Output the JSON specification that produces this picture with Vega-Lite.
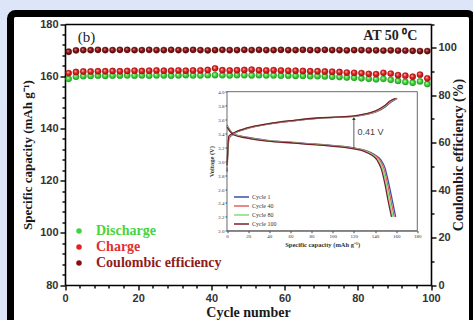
{
  "$schema": "https://vega.github.io/schema/vega-lite/v6.json",
  "width": 462,
  "height": 330,
  "autosize": {"type": "none"},
  "padding": {"left": 10.5, "top": 13.5, "right": 0.5, "bottom": 0},
  "background": "#dde6f8",
  "config": {
    "view": {"fill": "white", "stroke": "black", "strokeWidth": 7, "cornerRadius": 5},
    "axis": {"grid": false, "labelOverlap": false, "labelFlush": false}
  },
  "datasets": {
    "main": [
      {"cycle": 1, "discharge": 159.0, "charge": 161.2, "ce": 98.3},
      {"cycle": 3, "discharge": 159.8, "charge": 161.6, "ce": 98.9},
      {"cycle": 5, "discharge": 160.0, "charge": 161.8, "ce": 99.0},
      {"cycle": 7, "discharge": 160.1, "charge": 161.8, "ce": 99.0},
      {"cycle": 9, "discharge": 160.2, "charge": 161.9, "ce": 99.1},
      {"cycle": 11, "discharge": 160.1, "charge": 161.9, "ce": 99.0},
      {"cycle": 13, "discharge": 160.2, "charge": 162.0, "ce": 99.0},
      {"cycle": 15, "discharge": 160.2, "charge": 161.9, "ce": 99.1},
      {"cycle": 17, "discharge": 160.3, "charge": 162.0, "ce": 99.1},
      {"cycle": 19, "discharge": 160.2, "charge": 162.1, "ce": 99.0},
      {"cycle": 21, "discharge": 160.3, "charge": 162.0, "ce": 99.0},
      {"cycle": 23, "discharge": 160.2, "charge": 162.1, "ce": 99.1},
      {"cycle": 25, "discharge": 160.3, "charge": 162.2, "ce": 99.0},
      {"cycle": 27, "discharge": 160.3, "charge": 162.1, "ce": 99.0},
      {"cycle": 29, "discharge": 160.2, "charge": 162.1, "ce": 99.1},
      {"cycle": 31, "discharge": 160.3, "charge": 162.2, "ce": 99.0},
      {"cycle": 33, "discharge": 160.4, "charge": 162.1, "ce": 99.0},
      {"cycle": 35, "discharge": 160.3, "charge": 162.2, "ce": 99.1},
      {"cycle": 37, "discharge": 160.3, "charge": 162.2, "ce": 99.0},
      {"cycle": 39, "discharge": 160.4, "charge": 162.4, "ce": 98.9},
      {"cycle": 41, "discharge": 160.4, "charge": 163.0, "ce": 99.0},
      {"cycle": 43, "discharge": 160.4, "charge": 162.3, "ce": 99.1},
      {"cycle": 45, "discharge": 160.3, "charge": 162.2, "ce": 99.0},
      {"cycle": 47, "discharge": 160.4, "charge": 162.3, "ce": 99.0},
      {"cycle": 49, "discharge": 160.4, "charge": 162.4, "ce": 99.1},
      {"cycle": 51, "discharge": 160.3, "charge": 162.5, "ce": 99.0},
      {"cycle": 53, "discharge": 160.4, "charge": 162.3, "ce": 99.1},
      {"cycle": 55, "discharge": 160.3, "charge": 162.2, "ce": 99.0},
      {"cycle": 57, "discharge": 160.3, "charge": 162.3, "ce": 99.0},
      {"cycle": 59, "discharge": 160.2, "charge": 162.2, "ce": 99.1},
      {"cycle": 61, "discharge": 160.2, "charge": 162.1, "ce": 99.0},
      {"cycle": 63, "discharge": 160.1, "charge": 162.1, "ce": 99.0},
      {"cycle": 65, "discharge": 160.1, "charge": 162.0, "ce": 99.1},
      {"cycle": 67, "discharge": 160.0, "charge": 161.9, "ce": 99.0},
      {"cycle": 69, "discharge": 160.0, "charge": 161.9, "ce": 99.0},
      {"cycle": 71, "discharge": 159.9, "charge": 161.8, "ce": 99.1},
      {"cycle": 73, "discharge": 159.8, "charge": 161.7, "ce": 99.0},
      {"cycle": 75, "discharge": 159.7, "charge": 161.6, "ce": 99.0},
      {"cycle": 77, "discharge": 159.5, "charge": 161.4, "ce": 98.9},
      {"cycle": 79, "discharge": 159.4, "charge": 161.3, "ce": 99.0},
      {"cycle": 81, "discharge": 159.2, "charge": 161.2, "ce": 99.0},
      {"cycle": 83, "discharge": 159.0, "charge": 160.9, "ce": 98.9},
      {"cycle": 85, "discharge": 158.8, "charge": 160.8, "ce": 98.9},
      {"cycle": 87, "discharge": 159.0, "charge": 161.3, "ce": 98.8},
      {"cycle": 89, "discharge": 158.6, "charge": 161.0, "ce": 98.9},
      {"cycle": 91, "discharge": 158.2, "charge": 160.4, "ce": 98.8},
      {"cycle": 93, "discharge": 157.8, "charge": 160.2, "ce": 98.8},
      {"cycle": 95, "discharge": 157.5, "charge": 159.8, "ce": 98.7},
      {"cycle": 97, "discharge": 158.0, "charge": 160.6, "ce": 98.6},
      {"cycle": 99, "discharge": 157.0, "charge": 159.2, "ce": 98.6}
    ],
    "inset": [
      {"cycle": "Cycle 1", "branch": "charge", "cap": 0, "v": 2.85},
      {"cycle": "Cycle 1", "branch": "charge", "cap": 0.6, "v": 3.06},
      {"cycle": "Cycle 1", "branch": "charge", "cap": 1.9, "v": 3.33},
      {"cycle": "Cycle 1", "branch": "charge", "cap": 6, "v": 3.39},
      {"cycle": "Cycle 1", "branch": "charge", "cap": 19, "v": 3.47},
      {"cycle": "Cycle 1", "branch": "charge", "cap": 38, "v": 3.53},
      {"cycle": "Cycle 1", "branch": "charge", "cap": 63, "v": 3.58},
      {"cycle": "Cycle 1", "branch": "charge", "cap": 88, "v": 3.62},
      {"cycle": "Cycle 1", "branch": "charge", "cap": 120, "v": 3.645},
      {"cycle": "Cycle 1", "branch": "charge", "cap": 132, "v": 3.675},
      {"cycle": "Cycle 1", "branch": "charge", "cap": 142, "v": 3.715},
      {"cycle": "Cycle 1", "branch": "charge", "cap": 150, "v": 3.785},
      {"cycle": "Cycle 1", "branch": "charge", "cap": 156, "v": 3.86},
      {"cycle": "Cycle 1", "branch": "charge", "cap": 161, "v": 3.905},
      {"cycle": "Cycle 1", "branch": "discharge", "cap": 0, "v": 3.52},
      {"cycle": "Cycle 1", "branch": "discharge", "cap": 2.5, "v": 3.45},
      {"cycle": "Cycle 1", "branch": "discharge", "cap": 6, "v": 3.395},
      {"cycle": "Cycle 1", "branch": "discharge", "cap": 19, "v": 3.345},
      {"cycle": "Cycle 1", "branch": "discharge", "cap": 38, "v": 3.3},
      {"cycle": "Cycle 1", "branch": "discharge", "cap": 63, "v": 3.27},
      {"cycle": "Cycle 1", "branch": "discharge", "cap": 88, "v": 3.24},
      {"cycle": "Cycle 1", "branch": "discharge", "cap": 120, "v": 3.19},
      {"cycle": "Cycle 1", "branch": "discharge", "cap": 132, "v": 3.15},
      {"cycle": "Cycle 1", "branch": "discharge", "cap": 139, "v": 3.1},
      {"cycle": "Cycle 1", "branch": "discharge", "cap": 145.5, "v": 3.02},
      {"cycle": "Cycle 1", "branch": "discharge", "cap": 149.5, "v": 2.9},
      {"cycle": "Cycle 1", "branch": "discharge", "cap": 153, "v": 2.68},
      {"cycle": "Cycle 1", "branch": "discharge", "cap": 156.3, "v": 2.44},
      {"cycle": "Cycle 1", "branch": "discharge", "cap": 159.5, "v": 2.2},
      {"cycle": "Cycle 40", "branch": "charge", "cap": 0, "v": 2.88},
      {"cycle": "Cycle 40", "branch": "charge", "cap": 0.6, "v": 3.08},
      {"cycle": "Cycle 40", "branch": "charge", "cap": 1.8, "v": 3.34},
      {"cycle": "Cycle 40", "branch": "charge", "cap": 6, "v": 3.395},
      {"cycle": "Cycle 40", "branch": "charge", "cap": 19, "v": 3.472},
      {"cycle": "Cycle 40", "branch": "charge", "cap": 38, "v": 3.532},
      {"cycle": "Cycle 40", "branch": "charge", "cap": 63, "v": 3.582},
      {"cycle": "Cycle 40", "branch": "charge", "cap": 88, "v": 3.621},
      {"cycle": "Cycle 40", "branch": "charge", "cap": 119.5, "v": 3.646},
      {"cycle": "Cycle 40", "branch": "charge", "cap": 131.5, "v": 3.676},
      {"cycle": "Cycle 40", "branch": "charge", "cap": 141.5, "v": 3.717},
      {"cycle": "Cycle 40", "branch": "charge", "cap": 149.5, "v": 3.788},
      {"cycle": "Cycle 40", "branch": "charge", "cap": 155.5, "v": 3.863},
      {"cycle": "Cycle 40", "branch": "charge", "cap": 160.5, "v": 3.905},
      {"cycle": "Cycle 40", "branch": "discharge", "cap": 0, "v": 3.51},
      {"cycle": "Cycle 40", "branch": "discharge", "cap": 2.5, "v": 3.445},
      {"cycle": "Cycle 40", "branch": "discharge", "cap": 6, "v": 3.39},
      {"cycle": "Cycle 40", "branch": "discharge", "cap": 19, "v": 3.34},
      {"cycle": "Cycle 40", "branch": "discharge", "cap": 38, "v": 3.297},
      {"cycle": "Cycle 40", "branch": "discharge", "cap": 63, "v": 3.267},
      {"cycle": "Cycle 40", "branch": "discharge", "cap": 88, "v": 3.237},
      {"cycle": "Cycle 40", "branch": "discharge", "cap": 119.5, "v": 3.187},
      {"cycle": "Cycle 40", "branch": "discharge", "cap": 131.3, "v": 3.147},
      {"cycle": "Cycle 40", "branch": "discharge", "cap": 138.2, "v": 3.097},
      {"cycle": "Cycle 40", "branch": "discharge", "cap": 144.4, "v": 3.017},
      {"cycle": "Cycle 40", "branch": "discharge", "cap": 148.3, "v": 2.897},
      {"cycle": "Cycle 40", "branch": "discharge", "cap": 151.8, "v": 2.677},
      {"cycle": "Cycle 40", "branch": "discharge", "cap": 155, "v": 2.437},
      {"cycle": "Cycle 40", "branch": "discharge", "cap": 158.2, "v": 2.2},
      {"cycle": "Cycle 80", "branch": "charge", "cap": 0, "v": 2.91},
      {"cycle": "Cycle 80", "branch": "charge", "cap": 0.6, "v": 3.1},
      {"cycle": "Cycle 80", "branch": "charge", "cap": 1.8, "v": 3.35},
      {"cycle": "Cycle 80", "branch": "charge", "cap": 6, "v": 3.4},
      {"cycle": "Cycle 80", "branch": "charge", "cap": 19, "v": 3.475},
      {"cycle": "Cycle 80", "branch": "charge", "cap": 38, "v": 3.535},
      {"cycle": "Cycle 80", "branch": "charge", "cap": 63, "v": 3.585},
      {"cycle": "Cycle 80", "branch": "charge", "cap": 88, "v": 3.623},
      {"cycle": "Cycle 80", "branch": "charge", "cap": 119, "v": 3.648},
      {"cycle": "Cycle 80", "branch": "charge", "cap": 131, "v": 3.678},
      {"cycle": "Cycle 80", "branch": "charge", "cap": 141, "v": 3.72},
      {"cycle": "Cycle 80", "branch": "charge", "cap": 149, "v": 3.79},
      {"cycle": "Cycle 80", "branch": "charge", "cap": 155, "v": 3.866},
      {"cycle": "Cycle 80", "branch": "charge", "cap": 160, "v": 3.905},
      {"cycle": "Cycle 80", "branch": "discharge", "cap": 0, "v": 3.5},
      {"cycle": "Cycle 80", "branch": "discharge", "cap": 2.5, "v": 3.44},
      {"cycle": "Cycle 80", "branch": "discharge", "cap": 6, "v": 3.385},
      {"cycle": "Cycle 80", "branch": "discharge", "cap": 19, "v": 3.336},
      {"cycle": "Cycle 80", "branch": "discharge", "cap": 38, "v": 3.294},
      {"cycle": "Cycle 80", "branch": "discharge", "cap": 63, "v": 3.264},
      {"cycle": "Cycle 80", "branch": "discharge", "cap": 88, "v": 3.234},
      {"cycle": "Cycle 80", "branch": "discharge", "cap": 119, "v": 3.184},
      {"cycle": "Cycle 80", "branch": "discharge", "cap": 130.6, "v": 3.144},
      {"cycle": "Cycle 80", "branch": "discharge", "cap": 137.4, "v": 3.094},
      {"cycle": "Cycle 80", "branch": "discharge", "cap": 143.3, "v": 3.014},
      {"cycle": "Cycle 80", "branch": "discharge", "cap": 147.1, "v": 2.894},
      {"cycle": "Cycle 80", "branch": "discharge", "cap": 150.6, "v": 2.674},
      {"cycle": "Cycle 80", "branch": "discharge", "cap": 153.7, "v": 2.434},
      {"cycle": "Cycle 80", "branch": "discharge", "cap": 156.9, "v": 2.2},
      {"cycle": "Cycle 100", "branch": "charge", "cap": 0, "v": 2.94},
      {"cycle": "Cycle 100", "branch": "charge", "cap": 0.6, "v": 3.12},
      {"cycle": "Cycle 100", "branch": "charge", "cap": 1.7, "v": 3.36},
      {"cycle": "Cycle 100", "branch": "charge", "cap": 6, "v": 3.405},
      {"cycle": "Cycle 100", "branch": "charge", "cap": 19, "v": 3.478},
      {"cycle": "Cycle 100", "branch": "charge", "cap": 38, "v": 3.538},
      {"cycle": "Cycle 100", "branch": "charge", "cap": 63, "v": 3.588},
      {"cycle": "Cycle 100", "branch": "charge", "cap": 88, "v": 3.625},
      {"cycle": "Cycle 100", "branch": "charge", "cap": 118.5, "v": 3.65},
      {"cycle": "Cycle 100", "branch": "charge", "cap": 130.5, "v": 3.68},
      {"cycle": "Cycle 100", "branch": "charge", "cap": 140.5, "v": 3.723},
      {"cycle": "Cycle 100", "branch": "charge", "cap": 148.5, "v": 3.793},
      {"cycle": "Cycle 100", "branch": "charge", "cap": 154.5, "v": 3.869},
      {"cycle": "Cycle 100", "branch": "charge", "cap": 159.5, "v": 3.905},
      {"cycle": "Cycle 100", "branch": "discharge", "cap": 0, "v": 3.49},
      {"cycle": "Cycle 100", "branch": "discharge", "cap": 2.5, "v": 3.435},
      {"cycle": "Cycle 100", "branch": "discharge", "cap": 6, "v": 3.38},
      {"cycle": "Cycle 100", "branch": "discharge", "cap": 19, "v": 3.332},
      {"cycle": "Cycle 100", "branch": "discharge", "cap": 38, "v": 3.29},
      {"cycle": "Cycle 100", "branch": "discharge", "cap": 63, "v": 3.26},
      {"cycle": "Cycle 100", "branch": "discharge", "cap": 88, "v": 3.23},
      {"cycle": "Cycle 100", "branch": "discharge", "cap": 118.5, "v": 3.18},
      {"cycle": "Cycle 100", "branch": "discharge", "cap": 129.9, "v": 3.14},
      {"cycle": "Cycle 100", "branch": "discharge", "cap": 136.6, "v": 3.09},
      {"cycle": "Cycle 100", "branch": "discharge", "cap": 142.2, "v": 3.01},
      {"cycle": "Cycle 100", "branch": "discharge", "cap": 145.9, "v": 2.89},
      {"cycle": "Cycle 100", "branch": "discharge", "cap": 149.4, "v": 2.67},
      {"cycle": "Cycle 100", "branch": "discharge", "cap": 152.4, "v": 2.43},
      {"cycle": "Cycle 100", "branch": "discharge", "cap": 155.6, "v": 2.2}
    ]
  },
  "layer": [
    {
      "data": {"values": []},
      "mark": {"type": "circle", "size": 40, "opacity": 1},
      "encoding": {
        "x": {"field": "cycle", "type": "quantitative", "scale": {"domain": [0, 100], "range": [54.5, 420.5], "nice": false, "zero": false}, "axis": null},
        "y": {"field": "value", "type": "quantitative", "scale": {"domain": [80, 180], "range": [271.5, 10.5], "nice": false, "zero": false}, "axis": null},
        "color": {"field": "series", "type": "nominal",
          "scale": {"domain": ["Discharge", "Charge", "Coulombic efficiency"], "range": ["#3fd43c", "#e42020", "#8a0d0d"]},
          "legend": {"orient": "none", "legendX": 61.5, "legendY": 209.7, "title": null, "padding": 0,
            "symbolType": "circle", "symbolSize": 30, "symbolStrokeWidth": 0, "symbolOpacity": 1, "clipHeight": 15.5, "rowPadding": 0, "labelOffset": 10,
            "labelFont": "Liberation Serif", "labelFontSize": 14, "labelFontWeight": "bold",
            "labelColor": {"expr": "datum.label == 'Discharge' ? '#46d43f' : datum.label == 'Charge' ? '#e03030' : '#8e1c1c'"}}}
      }
    },
    {
      "data": {"name": "main"},
      "mark": {"type": "circle", "size": 40, "opacity": 1, "stroke": "#1f9a1f", "strokeWidth": 0.3,
        "fill": {"gradient": "radial", "x1": 0.38, "y1": 0.35, "r1": 0, "x2": 0.5, "y2": 0.5, "r2": 0.55, "stops": [{"offset": 0, "color": "#d6ffd0"}, {"offset": 0.45, "color": "#45d83e"}, {"offset": 1, "color": "#1e901e"}]}},
      "encoding": {
        "x": {"field": "cycle", "type": "quantitative",
          "scale": {"domain": [0, 100], "range": [54.5, 420.5], "nice": false, "zero": false},
          "axis": {"orient": "bottom", "offset": -58.5,
            "values": [0,4,8,12,16,20,24,28,32,36,40,44,48,52,56,60,64,68,72,76,80,84,88,92,96,100],
            "labelExpr": "datum.value % 20 == 0 ? datum.label : ''",
            "tickSize": {"condition": {"test": "datum.value % 20 == 0", "value": 5}, "value": 3},
            "title": "Cycle number", "titleFont": "Liberation Serif", "titleFontSize": 14, "titleFontWeight": "bold", "titleColor": "#1a1a1a", "titlePadding": 2,
            "labelFont": "Liberation Sans", "labelFontSize": 11, "labelFontWeight": "bold", "labelColor": "#333", "labelPadding": 2,
            "domainColor": "black", "domainWidth": 1.6, "tickColor": "black", "tickWidth": 1.4}},
        "y": {"field": "discharge", "type": "quantitative",
          "scale": {"domain": [80, 180], "range": [271.5, 10.5], "nice": false, "zero": false},
          "axis": {"orient": "left", "offset": -54.5,
            "values": [80,84,88,92,96,100,104,108,112,116,120,124,128,132,136,140,144,148,152,156,160,164,168,172,176,180],
            "labelExpr": "datum.value % 20 == 0 ? datum.label : ''",
            "tickSize": {"condition": {"test": "datum.value % 20 == 0", "value": 5}, "value": 3},
            "title": "Specific capacity (mAh g⁻¹)", "titleFont": "Liberation Serif", "titleFontSize": 13, "titleFontWeight": "bold", "titleColor": "#1a1a1a", "titlePadding": 5,
            "labelFont": "Liberation Sans", "labelFontSize": 11, "labelFontWeight": "bold", "labelColor": "#333", "labelPadding": 2,
            "domainColor": "black", "domainWidth": 1.6, "tickColor": "black", "tickWidth": 1.4}}
      }
    },
    {
      "data": {"name": "main"},
      "mark": {"type": "circle", "size": 40, "opacity": 1, "stroke": "#a01010", "strokeWidth": 0.3,
        "fill": {"gradient": "radial", "x1": 0.38, "y1": 0.35, "r1": 0, "x2": 0.5, "y2": 0.5, "r2": 0.55, "stops": [{"offset": 0, "color": "#ffd0d0"}, {"offset": 0.45, "color": "#e62424"}, {"offset": 1, "color": "#9a0c0c"}]}},
      "encoding": {
        "x": {"field": "cycle", "type": "quantitative", "scale": {"domain": [0, 100], "range": [54.5, 420.5], "nice": false, "zero": false}, "axis": null},
        "y": {"field": "charge", "type": "quantitative", "scale": {"domain": [80, 180], "range": [271.5, 10.5], "nice": false, "zero": false}, "axis": null}
      }
    },
    {
      "data": {"name": "main"},
      "mark": {"type": "circle", "size": 40, "opacity": 1, "stroke": "#4a0505", "strokeWidth": 0.3,
        "fill": {"gradient": "radial", "x1": 0.38, "y1": 0.35, "r1": 0, "x2": 0.5, "y2": 0.5, "r2": 0.55, "stops": [{"offset": 0, "color": "#e59a9a"}, {"offset": 0.45, "color": "#901515"}, {"offset": 1, "color": "#4a0404"}]}},
      "encoding": {
        "x": {"field": "cycle", "type": "quantitative", "scale": {"domain": [0, 100], "range": [54.5, 420.5], "nice": false, "zero": false},
          "axis": {"orient": "top", "offset": -10.5, "ticks": false, "labels": false, "title": null, "domainColor": "black", "domainWidth": 1.6}},
        "y": {"field": "ce", "type": "quantitative", "scale": {"domain": [0, 110], "range": [271.5, 10.5], "nice": false, "zero": false},
          "axis": {"orient": "right", "offset": -41.5,
            "values": [0,10,20,30,40,50,60,70,80,90,100,110],
            "labelExpr": "datum.value % 20 == 0 && datum.value <= 100 ? datum.label : ''",
            "tickSize": {"condition": {"test": "datum.value % 20 == 0", "value": 5}, "value": 3},
            "title": "Coulombic efficiency (%)", "titleAngle": 270, "titleBaseline": "middle", "titleFont": "Liberation Serif", "titleFontSize": 14, "titleFontWeight": "bold", "titleColor": "#1a1a1a", "titlePadding": 2,
            "labelFont": "Liberation Sans", "labelFontSize": 11, "labelFontWeight": "bold", "labelColor": "#333", "labelPadding": 2,
            "domainColor": "black", "domainWidth": 1.6, "tickColor": "black", "tickWidth": 1.4}}
      }
    },
    {
      "data": {"values": [{}]},
      "mark": {"type": "text", "text": "(b)", "font": "Liberation Serif", "fontSize": 15, "align": "left", "baseline": "middle", "color": "#222"},
      "encoding": {
        "x": {"datum": 3.5, "type": "quantitative", "scale": {"domain": [0, 100], "range": [54.5, 420.5], "nice": false, "zero": false}, "axis": null},
        "y": {"datum": 175, "type": "quantitative", "scale": {"domain": [80, 180], "range": [271.5, 10.5], "nice": false, "zero": false}, "axis": null}
      }
    },
    {
      "data": {"values": [{}]},
      "mark": {"type": "text", "text": "AT 50 ⁰C", "font": "Liberation Serif", "fontSize": 14, "fontWeight": "bold", "align": "right", "baseline": "middle", "color": "#222"},
      "encoding": {
        "x": {"datum": 96.3, "type": "quantitative", "scale": {"domain": [0, 100], "range": [54.5, 420.5], "nice": false, "zero": false}, "axis": null},
        "y": {"datum": 175.4, "type": "quantitative", "scale": {"domain": [80, 180], "range": [271.5, 10.5], "nice": false, "zero": false}, "axis": null}
      }
    },
    {
      "data": {"values": [{}]},
      "mark": {"type": "rect", "fill": "white", "stroke": "#444", "strokeWidth": 0.8},
      "encoding": {
        "x": {"datum": 0, "type": "quantitative", "scale": {"domain": [0, 180], "range": [216.5, 406.8], "nice": false, "zero": false}, "axis": null},
        "x2": {"datum": 180},
        "y": {"datum": 2, "type": "quantitative", "scale": {"domain": [2, 4], "range": [217.2, 78.2], "nice": false, "zero": false}, "axis": null},
        "y2": {"datum": 4}
      }
    },
    {
      "data": {"name": "inset"},
      "mark": {"type": "line", "strokeWidth": 1.3, "interpolate": "monotone"},
      "encoding": {
        "x": {"field": "cap", "type": "quantitative", "scale": {"domain": [0, 180], "range": [216.5, 406.8], "nice": false, "zero": false},
          "axis": {"orient": "bottom", "offset": -112.8, "values": [0,20,40,60,80,100,120,140,160,180],
            "title": "Specific capacity (mAh g⁻¹)", "titleFont": "Liberation Serif", "titleFontSize": 6.5, "titleFontWeight": "bold", "titleColor": "#333", "titlePadding": 3,
            "labelFont": "Liberation Serif", "labelFontSize": 5, "labelColor": "#333", "labelPadding": 1,
            "tickSize": 2, "tickColor": "#444", "domainColor": "#444", "domainWidth": 0.8}},
        "y": {"field": "v", "type": "quantitative", "scale": {"domain": [2, 4], "range": [217.2, 78.2], "nice": false, "zero": false},
          "axis": {"orient": "left", "offset": -216.5, "values": [2,2.2,2.4,2.6,2.8,3,3.2,3.4,3.6,3.8,4], "format": ".1f",
            "title": "Voltage (V)", "titleFont": "Liberation Serif", "titleFontSize": 6.5, "titleFontWeight": "bold", "titleColor": "#333", "titlePadding": 3,
            "labelFont": "Liberation Serif", "labelFontSize": 5, "labelColor": "#333", "labelPadding": 1,
            "tickSize": 2, "tickColor": "#444", "domainColor": "#444", "domainWidth": 0.8}},
        "stroke": {"field": "cycle", "type": "nominal",
          "scale": {"domain": ["Cycle 1", "Cycle 40", "Cycle 80", "Cycle 100"], "range": ["#3b4fa3", "#e0605a", "#7fe07a", "#7a1f2e"]},
          "legend": {"orient": "none", "legendX": 222.5, "legendY": 179.2, "title": null, "padding": 0,
            "symbolType": "stroke", "symbolSize": 225, "symbolStrokeWidth": 1.3, "clipHeight": 8.6, "rowPadding": 0, "labelOffset": 2,
            "labelFont": "Liberation Serif", "labelFontSize": 6, "labelColor": "#333"}},
        "detail": {"field": "branch"}
      }
    },
    {
      "data": {"values": [{}]},
      "mark": {"type": "rule", "color": "#333", "strokeWidth": 0.8},
      "encoding": {
        "x": {"datum": 120, "type": "quantitative", "scale": {"domain": [0, 180], "range": [216.5, 406.8], "nice": false, "zero": false}, "axis": null},
        "y": {"datum": 3.19, "type": "quantitative", "scale": {"domain": [2, 4], "range": [217.2, 78.2], "nice": false, "zero": false}, "axis": null},
        "y2": {"datum": 3.62}
      }
    },
    {
      "data": {"values": [{}]},
      "mark": {"type": "point", "shape": "triangle-up", "filled": true, "size": 12, "color": "#333", "opacity": 1},
      "encoding": {
        "x": {"datum": 120, "type": "quantitative", "scale": {"domain": [0, 180], "range": [216.5, 406.8], "nice": false, "zero": false}, "axis": null},
        "y": {"datum": 3.615, "type": "quantitative", "scale": {"domain": [2, 4], "range": [217.2, 78.2], "nice": false, "zero": false}, "axis": null}
      }
    },
    {
      "data": {"values": [{}]},
      "mark": {"type": "text", "text": "0.41 V", "font": "Liberation Sans", "fontSize": 9, "align": "left", "baseline": "middle", "color": "#444"},
      "encoding": {
        "x": {"datum": 123.5, "type": "quantitative", "scale": {"domain": [0, 180], "range": [216.5, 406.8], "nice": false, "zero": false}, "axis": null},
        "y": {"datum": 3.42, "type": "quantitative", "scale": {"domain": [2, 4], "range": [217.2, 78.2], "nice": false, "zero": false}, "axis": null}
      }
    }
  ],
  "resolve": {
    "scale": {"x": "independent", "y": "independent"},
    "axis": {"x": "independent", "y": "independent"}
  }
}
